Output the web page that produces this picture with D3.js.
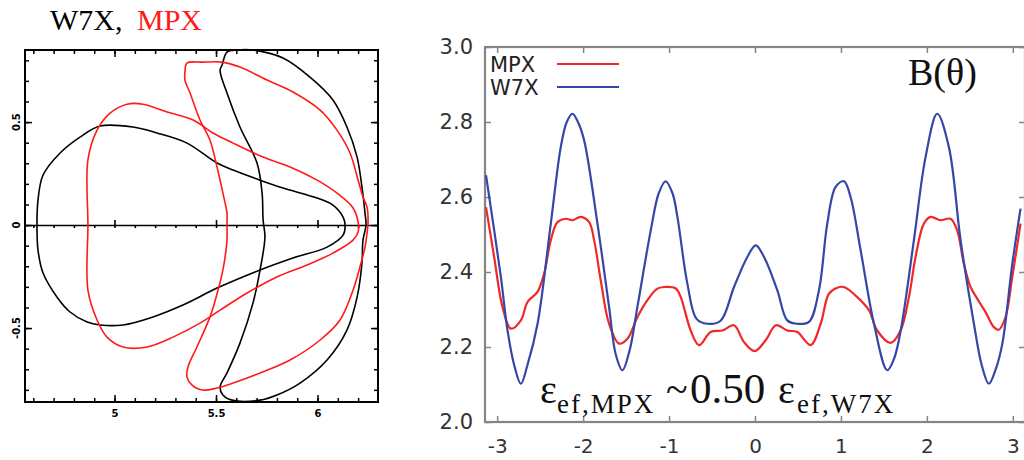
<!DOCTYPE html>
<html>
<head>
<meta charset="utf-8">
<script src="https://cdn.jsdelivr.net/npm/d3@7"></script>
<style>
  body { margin: 0; background: #fff; }
  svg { display: block; }
</style>
</head>
<body>
<svg id="chart" width="1024" height="460"></svg>
<script>
// ---- data: right panel, B(theta) ----
const thetaTicks = [-3, -2, -1, 0, 1, 2, 3];
const bTicks = [2.0, 2.2, 2.4, 2.6, 2.8, 3.0];

const w7xTheta = [-3.13, -2.957, -2.88, -2.80, -2.724, -2.65, -2.53, -2.376, -2.26, -2.19, -2.124, -2.06, -1.988,
                  -1.833, -1.698, -1.62, -1.543, -1.46, -1.368, -1.213, -1.12, -1.04, -0.96, -0.903, -0.787, -0.68,
                  -0.554, -0.40, -0.244, -0.089, 0.008, 0.105, 0.26, 0.376, 0.492, 0.628, 0.744, 0.841, 0.938, 1.035,
                  1.112, 1.229, 1.384, 1.539, 1.62, 1.70, 1.849, 1.985, 2.12, 2.256, 2.392, 2.547, 2.64, 2.721, 2.80,
                  2.878, 2.994, 3.09];
const w7xB = [2.658, 2.387, 2.245, 2.15, 2.102, 2.15, 2.262, 2.529, 2.733, 2.80, 2.822, 2.80, 2.751,
              2.529, 2.307, 2.18, 2.138, 2.19, 2.307, 2.511, 2.61, 2.642, 2.61, 2.547, 2.369, 2.275,
              2.262, 2.27, 2.36, 2.44, 2.471, 2.44, 2.351, 2.271, 2.262, 2.267, 2.351, 2.529, 2.627, 2.642,
              2.60, 2.458, 2.262, 2.138, 2.17, 2.25, 2.485, 2.707, 2.822, 2.733, 2.485, 2.262, 2.15, 2.102, 2.14,
              2.209, 2.422, 2.569];

const mpxTheta = [-3.13, -3.035, -2.938, -2.84, -2.724, -2.647, -2.531, -2.453, -2.376, -2.298, -2.201, -2.124, -2.027,
                  -1.93, -1.872, -1.795, -1.698, -1.581, -1.484, -1.368, -1.252, -1.14, -1.058, -0.922, -0.864, -0.748,
                  -0.651, -0.516, -0.38, -0.244, -0.128, -0.004, 0.124, 0.244, 0.376, 0.492, 0.647, 0.764, 0.86, 0.957,
                  1.035, 1.19, 1.326, 1.422, 1.578, 1.694, 1.791, 1.868, 1.965, 2.043, 2.159, 2.275, 2.352, 2.43, 2.508,
                  2.585, 2.683, 2.779, 2.837, 2.915, 2.994, 3.09];
const mpxB = [2.573, 2.44, 2.307, 2.249, 2.271, 2.32, 2.347, 2.396, 2.485, 2.533, 2.542, 2.538, 2.547,
              2.533, 2.485, 2.378, 2.262, 2.209, 2.222, 2.28, 2.325, 2.355, 2.36, 2.356, 2.333, 2.244,
              2.205, 2.24, 2.244, 2.258, 2.213, 2.189, 2.218, 2.258, 2.244, 2.24, 2.205, 2.262, 2.342, 2.358,
              2.36, 2.333, 2.298, 2.244, 2.211, 2.244, 2.333, 2.44, 2.529, 2.547, 2.538, 2.542, 2.511, 2.422, 2.36,
              2.329, 2.293, 2.253, 2.246, 2.28, 2.387, 2.529];

// ---- data: left panel, flux surface cross sections (R, Z) ----
const rTicks = [5, 5.5, 6];
const rTickLabels = ["5", "5.5", "6"];
const zTicks = [0.5, 0, -0.5];
const zTickLabels = ["0.5", "0", "-0.5"];

// W7X, bean-like section
const w7xR0 = [6.136, 6.126, 6.076, 5.998, 5.830, 5.717, 5.584, 5.505, 5.357, 5.209, 5.091, 4.929, 4.830, 4.732, 4.648,
               4.623, 4.618, 4.623, 4.648, 4.717, 4.781, 4.865, 4.929, 5.042, 5.175, 5.337, 5.505, 5.717, 5.879, 6.047, 6.126];
const w7xZ0 = [0, 0.039, 0.097, 0.131, 0.180, 0.218, 0.267, 0.301, 0.398, 0.447, 0.476, 0.481, 0.427, 0.350, 0.243,
               0.121, 0, -0.121, -0.233, -0.350, -0.422, -0.471, -0.485, -0.485, -0.451, -0.388, -0.306, -0.218, -0.160, -0.107, -0.049];
// W7X, crescent section
const w7xR1 = [5.554, 5.603, 5.682, 5.830, 5.963, 6.076, 6.145, 6.195, 6.219, 6.234, 6.239, 6.224, 6.219, 6.195, 6.145, 6.047, 5.914,
               5.800, 5.717, 5.579, 5.534, 5.520, 5.554, 5.618, 5.682, 5.717, 5.741, 5.732, 5.727, 5.702, 5.618, 5.554, 5.520, 5.530];
const w7xZ1 = [0.840, 0.850, 0.850, 0.811, 0.718, 0.607, 0.476, 0.330, 0.184, 0.058, 0, -0.073, -0.184, -0.350, -0.510, -0.655, -0.767,
               -0.825, -0.850, -0.850, -0.825, -0.786, -0.718, -0.573, -0.379, -0.218, -0.058, 0.024, 0.155, 0.301, 0.476, 0.641, 0.752, 0.777];
// MPX, bean-like section
const mpxR0 = [6.200, 6.175, 6.096, 5.998, 5.865, 5.732, 5.584, 5.485, 5.387, 5.259, 5.140, 5.062, 4.978, 4.914, 4.869,
               4.869, 4.869, 4.914, 4.963, 5.042, 5.160, 5.288, 5.421, 5.520, 5.653, 5.800, 5.948, 6.076, 6.175, 6.200];
const mpxZ0 = [0.015, 0.083, 0.155, 0.218, 0.282, 0.330, 0.398, 0.447, 0.510, 0.549, 0.587, 0.587, 0.544, 0.461, 0.316,
               0, -0.316, -0.461, -0.544, -0.592, -0.592, -0.544, -0.476, -0.413, -0.330, -0.252, -0.194, -0.136, -0.073, -0.034];
// MPX, crescent section
const mpxR1 = [5.357, 5.436, 5.530, 5.618, 5.751, 5.879, 6.013, 6.096, 6.160, 6.200, 6.224, 6.244, 6.249, 6.244, 6.234, 6.209,
               6.175, 6.111, 6.013, 5.865, 5.717, 5.584, 5.505, 5.436, 5.382, 5.357, 5.362, 5.406, 5.470, 5.510, 5.534, 5.554,
               5.554, 5.554, 5.534, 5.505, 5.470, 5.421, 5.372, 5.347, 5.347];
const mpxZ1 = [0.786, 0.791, 0.791, 0.767, 0.704, 0.646, 0.558, 0.461, 0.350, 0.218, 0.136, 0.087, 0.010, -0.039, -0.107, -0.204,
               -0.316, -0.461, -0.558, -0.655, -0.718, -0.767, -0.791, -0.801, -0.777, -0.738, -0.689, -0.592, -0.447, -0.316, -0.218, -0.073,
               0, 0.058, 0.155, 0.282, 0.413, 0.510, 0.641, 0.704, 0.743];

const svg = d3.select("#chart");
svg.append("rect").attr("width", 1024).attr("height", 460).attr("fill", "#fff");

// =============== LEFT PANEL ===============
const left = { x0: 25, x1: 378, y0: 50, y1: 402 };
const xR = d3.scaleLinear().domain([4.559, 6.298]).range([left.x0, left.x1]);
const yZ = d3.scaleLinear().domain([-0.859, 0.85]).range([left.y1, left.y0]);

const minorR = d3.range(46, 63).map(d => d / 10);
const minorZ = d3.range(-8, 9).map(d => d / 10);

// title
const title = svg.append("text")
    .attr("y", 30)
    .style("font-family", "'Liberation Serif', 'Times New Roman', serif")
    .style("font-size", "30px");
title.append("tspan").attr("x", 50).attr("fill", "#000").text("W7X,");
title.append("tspan").attr("x", 137).attr("fill", "#ff1a1a").text("MPX");

// tick marks on the four sides
function sideTicks(values, size) {
    svg.append("g").attr("transform", `translate(0,${left.y1})`)
        .call(d3.axisBottom(xR).tickValues(values).tickSize(-size).tickFormat(""))
        .call(g => g.select(".domain").remove());
    svg.append("g").attr("transform", `translate(0,${left.y0})`)
        .call(d3.axisTop(xR).tickValues(values).tickSize(-size).tickFormat(""))
        .call(g => g.select(".domain").remove());
}
function sideTicksY(values, size) {
    svg.append("g").attr("transform", `translate(${left.x0},0)`)
        .call(d3.axisLeft(yZ).tickValues(values).tickSize(-size).tickFormat(""))
        .call(g => g.select(".domain").remove());
    svg.append("g").attr("transform", `translate(${left.x1},0)`)
        .call(d3.axisRight(yZ).tickValues(values).tickSize(-size).tickFormat(""))
        .call(g => g.select(".domain").remove());
}
sideTicks(minorR, 4);
sideTicks(rTicks, 7);
sideTicksY(minorZ, 4);
sideTicksY(zTicks, 7);
svg.selectAll(".tick line").attr("stroke", "#000").attr("stroke-width", 1.5);

// zero line with crossing ticks
svg.append("g").attr("class", "zero").attr("transform", `translate(0,${yZ(0)})`)
    .call(d3.axisBottom(xR).tickValues(minorR).tickSize(3).tickSizeOuter(0).tickFormat(""));
svg.append("g").attr("class", "zero").attr("transform", `translate(0,${yZ(0)})`)
    .call(d3.axisTop(xR).tickValues(rTicks).tickSize(5).tickSizeOuter(0).tickFormat(""))
    .call(g => g.select(".domain").remove());
svg.selectAll(".zero path, .zero line").attr("stroke", "#000").attr("stroke-width", 1.6);

// cross sections
const closedLine = d3.line()
    .x(d => xR(d[0]))
    .y(d => yZ(d[1]))
    .curve(d3.curveCatmullRomClosed.alpha(0.5));

const sections = [
    { r: w7xR0, z: w7xZ0, color: "#000" },
    { r: w7xR1, z: w7xZ1, color: "#000" },
    { r: mpxR0, z: mpxZ0, color: "#ff1a1a" },
    { r: mpxR1, z: mpxZ1, color: "#ff1a1a" }
];
sections.forEach(s => {
    svg.append("path")
        .datum(d3.zip(s.r, s.z))
        .attr("d", closedLine)
        .attr("fill", "none")
        .attr("stroke", s.color)
        .attr("stroke-width", 1.6);
});

// frame
svg.append("rect")
    .attr("x", left.x0).attr("y", left.y0)
    .attr("width", left.x1 - left.x0).attr("height", left.y1 - left.y0)
    .attr("fill", "none").attr("stroke", "#000").attr("stroke-width", 2);

// tick labels
svg.append("g").attr("transform", `translate(0,${left.y1})`)
    .call(d3.axisBottom(xR).tickValues(rTicks).tickFormat((d, i) => rTickLabels[i]).tickSize(0).tickPadding(8))
    .call(g => g.select(".domain").remove())
    .selectAll("text")
    .attr("fill", "#000")
    .style("font-family", "'DejaVu Sans', sans-serif")
    .style("font-weight", "bold")
    .style("font-size", "10px");

svg.selectAll(".zlab")
    .data(zTicks)
    .enter().append("text")
    .attr("class", "zlab")
    .attr("transform", d => `translate(20,${yZ(d)}) rotate(-90)`)
    .attr("text-anchor", "middle")
    .style("font-family", "'DejaVu Sans', sans-serif")
    .style("font-weight", "bold")
    .style("font-size", "10px")
    .text((d, i) => zTickLabels[i]);

// =============== RIGHT PANEL ===============
const right = { x0: 485, x1: 1025, y0: 47, y1: 422 };
const xT = d3.scaleLinear().domain([-Math.PI, Math.PI]).range([right.x0, right.x1]);
const yB = d3.scaleLinear().domain([2.0, 3.0]).range([right.y1, right.y0]);
const gray = "#858585";

// inner ticks
const rp = svg.append("g").attr("class", "rp");
rp.append("g").attr("transform", `translate(0,${right.y1})`)
    .call(d3.axisBottom(xT).tickValues(thetaTicks).tickSize(-6).tickFormat(""));
rp.append("g").attr("transform", `translate(0,${right.y0})`)
    .call(d3.axisTop(xT).tickValues(thetaTicks).tickSize(-6).tickFormat(""));
rp.append("g").attr("transform", `translate(${right.x0},0)`)
    .call(d3.axisLeft(yB).tickValues(bTicks).tickSize(-6).tickFormat(""));
rp.append("g").attr("transform", `translate(${right.x1},0)`)
    .call(d3.axisRight(yB).tickValues(bTicks).tickSize(-6).tickFormat(""));
rp.selectAll(".domain").remove();
rp.selectAll(".tick line").attr("stroke", gray).attr("stroke-width", 1.5);

svg.append("rect")
    .attr("x", right.x0).attr("y", right.y0)
    .attr("width", right.x1 - right.x0).attr("height", right.y1 - right.y0)
    .attr("fill", "none").attr("stroke", gray).attr("stroke-width", 2.2);

// tick labels
svg.append("g").attr("transform", `translate(${right.x0},0)`)
    .call(d3.axisLeft(yB).tickValues(bTicks).tickFormat(d3.format(".1f")).tickSize(0).tickPadding(12))
    .call(g => g.select(".domain").remove())
    .selectAll("text")
    .attr("fill", "#333")
    .style("font-family", "'DejaVu Sans', sans-serif")
    .style("font-size", "21px");

svg.append("g").attr("transform", `translate(0,${right.y1})`)
    .call(d3.axisBottom(xT).tickValues(thetaTicks).tickFormat(d => String(d)).tickSize(0).tickPadding(17))
    .call(g => g.select(".domain").remove())
    .selectAll("text")
    .attr("fill", "#333")
    .style("font-family", "'DejaVu Sans', sans-serif")
    .style("font-size", "20px");

// curves
svg.append("clipPath").attr("id", "clipR")
    .append("rect")
    .attr("x", right.x0).attr("y", right.y0)
    .attr("width", right.x1 - right.x0).attr("height", right.y1 - right.y0);

const bLine = d3.line()
    .x(d => xT(d[0]))
    .y(d => yB(d[1]))
    .curve(d3.curveCatmullRom.alpha(0.5));

svg.append("path")
    .datum(d3.zip(mpxTheta, mpxB))
    .attr("clip-path", "url(#clipR)")
    .attr("d", bLine)
    .attr("fill", "none")
    .attr("stroke", "#f02828")
    .attr("stroke-width", 2.2);

svg.append("path")
    .datum(d3.zip(w7xTheta, w7xB))
    .attr("clip-path", "url(#clipR)")
    .attr("d", bLine)
    .attr("fill", "none")
    .attr("stroke", "#3446a8")
    .attr("stroke-width", 2.2);

// legend
const legend = [
    { name: "MPX", color: "#f02828", y: 72 },
    { name: "W7X", color: "#3446a8", y: 95 }
];
legend.forEach(l => {
    svg.append("text")
        .attr("x", 490).attr("y", l.y)
        .attr("fill", "#222")
        .style("font-family", "'DejaVu Sans', sans-serif")
        .style("font-size", "21px")
        .text(l.name);
    svg.append("line")
        .attr("x1", 557).attr("x2", 619)
        .attr("y1", l.y - 8).attr("y2", l.y - 8)
        .attr("stroke", l.color).attr("stroke-width", 2.2);
});

// annotations
svg.append("text")
    .attr("x", 908).attr("y", 85)
    .attr("fill", "#111")
    .style("font-family", "'Liberation Serif', 'Times New Roman', serif")
    .style("font-size", "38px")
    .text("B(θ)");

const serif = "'Liberation Serif', 'Times New Roman', serif";
const note = svg.append("text")
    .attr("fill", "#111")
    .style("font-family", serif);
note.append("tspan").attr("x", 540).attr("y", 403).style("font-size", "40px").text("ε");
note.append("tspan").attr("x", 557).attr("y", 413).style("font-size", "27px").style("letter-spacing", "2px").text("ef,MPX");
note.append("tspan").attr("x", 666).attr("y", 403).style("font-size", "40px").text("~");
note.append("tspan").attr("x", 690).attr("y", 403).style("font-size", "43px").text("0.50");
note.append("tspan").attr("x", 778).attr("y", 403).style("font-size", "40px").text("ε");
note.append("tspan").attr("x", 797).attr("y", 413).style("font-size", "27px").style("letter-spacing", "2px").text("ef,W7X");
</script>
</body>
</html>
